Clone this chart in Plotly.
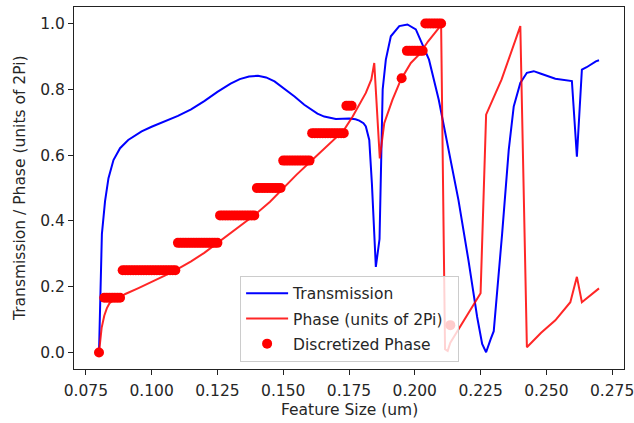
import plotly.graph_objects as go

# ---------------- data ----------------
trans_x = [0.0800, 0.0805, 0.0811, 0.0823, 0.0836, 0.0855, 0.0880, 0.0911, 0.0962, 0.1000,
           0.1050, 0.1100, 0.1150, 0.1200, 0.1250, 0.1300, 0.1335, 0.1370, 0.1404, 0.1435,
           0.1467, 0.1500, 0.1543, 0.1580, 0.1606, 0.1630, 0.1656, 0.1680, 0.1700, 0.1751,
           0.1775, 0.1789, 0.1805, 0.1814, 0.1827, 0.1837, 0.1846, 0.1852,
           0.1866, 0.1878, 0.1890, 0.1909, 0.1941, 0.1972, 0.2004, 0.2054, 0.2091, 0.2129,
           0.2166, 0.2204, 0.2237, 0.2256, 0.2271, 0.2288, 0.2300, 0.2332, 0.2357, 0.2376,
           0.2401, 0.2426, 0.2452, 0.2477, 0.2534, 0.2597, 0.2616, 0.2635, 0.2653, 0.2688,
           0.2700]
trans_y = [0.000, 0.200, 0.360, 0.460, 0.530, 0.585, 0.621, 0.646, 0.672, 0.686,
           0.703, 0.719, 0.739, 0.764, 0.792, 0.817, 0.831, 0.839, 0.841, 0.836,
           0.824, 0.805, 0.778, 0.753, 0.738, 0.726, 0.717, 0.712, 0.710, 0.711,
           0.709, 0.705, 0.697, 0.687, 0.646, 0.514, 0.362, 0.260,
           0.345, 0.800, 0.890, 0.961, 0.992, 0.997, 0.982, 0.890, 0.768, 0.616,
           0.463, 0.280, 0.108, 0.026, 0.001, 0.040, 0.065, 0.362, 0.616, 0.748,
           0.819, 0.850, 0.855, 0.848, 0.832, 0.825, 0.595, 0.860, 0.867, 0.885,
           0.888]

phase_x = [0.0800, 0.0810, 0.0820, 0.0830, 0.0840, 0.0855, 0.0875, 0.0900, 0.0950, 0.1000,
           0.1050, 0.1095, 0.1150, 0.1200, 0.1250, 0.1300, 0.1350, 0.1390, 0.1450, 0.1500,
           0.1550, 0.1610, 0.1676, 0.1730, 0.1764, 0.1814, 0.1835, 0.1846, 0.1867, 0.1884,
           0.1915, 0.1947, 0.1985, 0.2016, 0.2050, 0.2080, 0.2100, 0.2115, 0.2125, 0.2135,
           0.2180, 0.2250, 0.2271, 0.2330, 0.2401, 0.2426, 0.2480, 0.2534, 0.2591, 0.2616,
           0.2635, 0.2700]
phase_y = [0.000, 0.075, 0.112, 0.135, 0.150, 0.160, 0.166, 0.178, 0.196, 0.214,
           0.234, 0.252, 0.277, 0.303, 0.333, 0.362, 0.392, 0.417, 0.458, 0.500,
           0.540, 0.585, 0.636, 0.675, 0.717, 0.789, 0.830, 0.880, 0.590, 0.697,
           0.768, 0.829, 0.880, 0.905, 0.945, 0.975, 0.995, 0.010, 0.005, 0.030,
           0.090, 0.180, 0.723, 0.830, 0.992, 0.016, 0.060, 0.098, 0.153, 0.230,
           0.153, 0.195]

disc_levels = [0.0, 0.1667, 0.25, 0.3333, 0.4167, 0.5, 0.5833, 0.6667, 0.75,
               0.8333, 0.9167, 1.0, 0.0833]
disc_x_by_level = [
    [0.080],
    [0.082, 0.083, 0.084, 0.085, 0.086, 0.087, 0.088],
    [0.089, 0.090, 0.091, 0.092, 0.093, 0.094, 0.095, 0.096, 0.097, 0.098, 0.099,
     0.100, 0.101, 0.102, 0.103, 0.104, 0.105, 0.106, 0.107, 0.108, 0.109],
    [0.110, 0.111, 0.112, 0.113, 0.114, 0.115, 0.116, 0.117, 0.118, 0.119, 0.120,
     0.121, 0.122, 0.123, 0.124, 0.125],
    [0.126, 0.127, 0.128, 0.129, 0.130, 0.131, 0.132, 0.133, 0.134, 0.135, 0.136,
     0.137, 0.138, 0.139],
    [0.140, 0.141, 0.142, 0.143, 0.144, 0.145, 0.146, 0.147, 0.148, 0.149],
    [0.150, 0.151, 0.152, 0.153, 0.154, 0.155, 0.156, 0.157, 0.158, 0.159, 0.160],
    [0.161, 0.162, 0.163, 0.164, 0.165, 0.166, 0.167, 0.168, 0.169, 0.170, 0.171,
     0.172, 0.173],
    [0.174, 0.175, 0.176],
    [0.195],
    [0.197, 0.198, 0.199, 0.200, 0.201, 0.202, 0.203],
    [0.204, 0.205, 0.206, 0.207, 0.208, 0.209, 0.210],
    [0.2135],
]

x_tickvals = [0.075, 0.100, 0.125, 0.150, 0.175, 0.200, 0.225, 0.250, 0.275]
x_ticktext = ["0.075", "0.100", "0.125", "0.150", "0.175", "0.200", "0.225", "0.250", "0.275"]
y_tickvals = [0.0, 0.2, 0.4, 0.6, 0.8, 1.0]
y_ticktext = ["0.0", "0.2", "0.4", "0.6", "0.8", "1.0"]

x_title = "Feature Size (um)"
y_title = "Transmission / Phase (units of 2Pi)"

# ---------------- figure ----------------
disc_x, disc_y = [], []
for lvl, xs in zip(disc_levels, disc_x_by_level):
    disc_x.extend(xs)
    disc_y.extend([lvl] * len(xs))

FONT = "DejaVu Sans"
FS = 15.5
TXT = "#262626"

fig = go.Figure()
fig.add_trace(go.Scatter(x=trans_x, y=trans_y, mode="lines", name="Transmission",
                         line=dict(color="#0000ff", width=2), legendgroup="a"))
fig.add_trace(go.Scatter(x=phase_x, y=phase_y, mode="lines",
                         name="Phase (units of 2Pi)\u00a0\u00a0",
                         line=dict(color="rgba(255,0,0,0.85)", width=2), legendgroup="b"))
fig.add_trace(go.Scatter(x=disc_x, y=disc_y, mode="markers", name="Discretized Phase",
                         marker=dict(color="#ff0000", size=10), legendgroup="c"))

axis_common = dict(showgrid=False, zeroline=False, showline=True, mirror=True,
                   linecolor="#222222", linewidth=1.2, ticks="outside", ticklen=5,
                   tickwidth=1.2, tickcolor="#222222", automargin=False,
                   ticklabeloverflow="allow",
                   tickfont=dict(family=FONT, size=FS, color=TXT))

fig.update_layout(
    width=634, height=423,
    margin=dict(l=74, r=10, t=7, b=54),
    paper_bgcolor="white", plot_bgcolor="white",
    font=dict(family=FONT, size=FS, color=TXT),
    xaxis=dict(range=[0.0705, 0.2795], tickvals=x_tickvals, ticktext=x_ticktext,
               ticklabelstandoff=2, **axis_common),
    yaxis=dict(range=[-0.05, 1.05], tickvals=y_tickvals, ticktext=y_ticktext, **axis_common),
    legend=dict(x=0.302, y=0.02, xanchor="left", yanchor="bottom",
                bgcolor="rgba(255,255,255,0.8)", bordercolor="#cccccc", borderwidth=1,
                font=dict(family=FONT, size=FS, color=TXT), itemwidth=42,
                traceorder="grouped", tracegroupgap=2),
    showlegend=True,
    hovermode=False,
    annotations=[
        dict(text=x_title, xref="paper", yref="paper", x=0.5, y=0, xanchor="center",
             yanchor="middle", yshift=-41, showarrow=False,
             font=dict(family=FONT, size=FS, color=TXT)),
        dict(text=y_title, xref="paper", yref="paper", x=0, y=0.5, xanchor="center",
             yanchor="middle", xshift=-54, textangle=-90, showarrow=False,
             font=dict(family=FONT, size=FS, color=TXT)),
    ],
)

# remove the default 8px page margin so the 634x423 figure fills the window exactly
fig.write_html("out.html",
               config={"displayModeBar": False},
               post_script="document.body.style.margin='0';document.body.style.overflow='hidden';")
